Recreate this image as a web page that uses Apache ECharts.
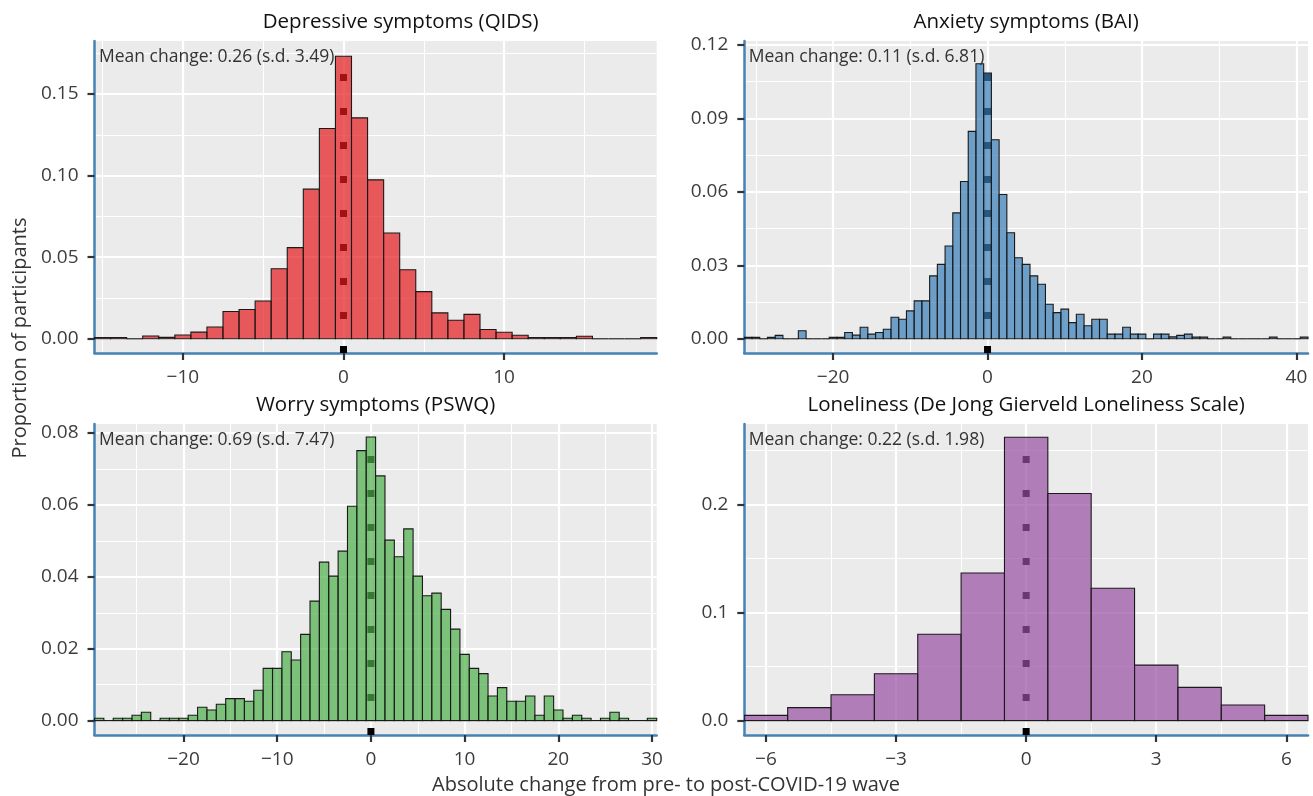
<!DOCTYPE html>
<html><head><meta charset="utf-8">
<script src="https://cdn.jsdelivr.net/npm/echarts@6/dist/echarts.min.js"></script>
<style>html,body{margin:0;padding:0;background:#fff}#c{width:1313px;height:796px}</style>
</head><body><div id="c"></div>
<script>
// ---------- DATA ----------
const binWidth = 1;
const refLineX = 0;

const qidsBins = [-15,-14,-13,-12,-11,-10,-9,-8,-7,-6,-5,-4,-3,-2,-1,0,1,2,3,4,5,6,7,8,9,10,11,12,13,14,15,16,17,18,19];
const qidsProp = [0.0008,0.0008,0,0.0017,0.0009,0.0023,0.0041,0.0072,0.0167,0.018,0.0232,0.0429,0.0559,0.0917,0.1289,0.1732,0.1354,0.0974,0.0648,0.0423,0.0289,0.0159,0.0114,0.015,0.0057,0.004,0.0022,0.0008,0.0008,0.0008,0.0016,0,0,0,0.0008];
const qidsXTicks = [-10,0,10];
const qidsXMinor = [-15,-5,5,15];
const qidsYTicks = [0,0.05,0.10,0.15];
const qidsYMinor = [0.025,0.075,0.125,0.175];

const baiBins = [-31,-30,-29,-28,-27,-26,-25,-24,-23,-22,-21,-20,-19,-18,-17,-16,-15,-14,-13,-12,-11,-10,-9,-8,-7,-6,-5,-4,-3,-2,-1,0,1,2,3,4,5,6,7,8,9,10,11,12,13,14,15,16,17,18,19,20,21,22,23,24,25,26,27,28,29,30,31,32,33,34,35,36,37,38,39,40,41];
const baiProp = [0.0006,0.0006,0,0.0006,0.0014,0,0,0.0033,0,0,0,0.0006,0.0006,0.0026,0.0015,0.0047,0.0019,0.0026,0.0039,0.0088,0.008,0.0114,0.0155,0.0155,0.0257,0.0304,0.0379,0.0514,0.0642,0.0847,0.1123,0.1085,0.0813,0.0589,0.0433,0.0331,0.0304,0.0257,0.0223,0.0141,0.0107,0.0121,0.0066,0.01,0.0053,0.008,0.008,0.0019,0.0019,0.0047,0.0019,0.0019,0,0.0019,0.0019,0.0008,0.0014,0.0019,0.0007,0.0007,0,0,0.0007,0,0,0,0,0,0.0007,0,0,0,0.0007];
const baiXTicks = [-20,0,20,40];
const baiXMinor = [-30,-10,10,30];
const baiYTicks = [0,0.03,0.06,0.09,0.12];
const baiYMinor = [0.015,0.045,0.075,0.105];

const pswqBins = [-29,-28,-27,-26,-25,-24,-23,-22,-21,-20,-19,-18,-17,-16,-15,-14,-13,-12,-11,-10,-9,-8,-7,-6,-5,-4,-3,-2,-1,0,1,2,3,4,5,6,7,8,9,10,11,12,13,14,15,16,17,18,19,20,21,22,23,24,25,26,27,28,29,30];
const pswqProp = [0.00065,0,0.00065,0.00065,0.00148,0.00231,0,0.00065,0.00065,0.00065,0.00148,0.0037,0.00296,0.00454,0.00611,0.00611,0.00537,0.00843,0.01454,0.01454,0.01917,0.01685,0.02398,0.03324,0.04407,0.04019,0.04713,0.05963,0.07509,0.07889,0.06806,0.05019,0.04556,0.05333,0.04019,0.03472,0.03546,0.03093,0.02546,0.01843,0.01454,0.01306,0.00685,0.00917,0.00537,0.00537,0.00685,0.00148,0.00685,0.00296,0.00065,0.00148,0.00065,0,0.00065,0.00231,0.00065,0,0,0.00065];
const pswqXTicks = [-20,-10,0,10,20,30];
const pswqXMinor = [-25,-15,-5,5,15,25];
const pswqYTicks = [0,0.02,0.04,0.06,0.08];
const pswqYMinor = [0.01,0.03,0.05,0.07];

const lonBins = [-6,-5,-4,-3,-2,-1,0,1,2,3,4,5,6];
const lonProp = [0.0049,0.012,0.024,0.0434,0.08,0.1366,0.2622,0.2102,0.1225,0.0514,0.0308,0.0145,0.0049];
const lonXTicks = [-6,-3,0,3,6];
const lonXMinor = [-4.5,-1.5,1.5,4.5];
const lonYTicks = [0,0.1,0.2];
const lonYMinor = [0.05,0.15,0.25];

const panelTitles = ['Depressive symptoms (QIDS)','Anxiety symptoms (BAI)','Worry symptoms (PSWQ)','Loneliness (De Jong Gierveld Loneliness Scale)'];
const panelNotes = ['Mean change: 0.26 (s.d. 3.49)','Mean change: 0.11 (s.d. 6.81)','Mean change: 0.69 (s.d. 7.47)','Mean change: 0.22 (s.d. 1.98)'];
const yAxisTitle = 'Proportion of participants';
const xAxisTitle = 'Absolute change from pre- to post-COVID-19 wave';

// ---------- LAYOUT / STYLE ----------
const FONT = '"Open Sans", "Noto Sans", sans-serif';
const panels = [
  {bins:qidsBins, vals:qidsProp, xMin:-15.5, xMax:19.5, yMin:-0.0087, yMax:0.1825, xMaj:qidsXTicks, xMin2:qidsXMinor, yMaj:qidsYTicks, yMin2:qidsYMinor, dec:2,
   fill:'rgba(228,26,28,0.7)', box:{left:94.5, top:41, width:562.2, height:312}, titleShift:25},
  {bins:baiBins, vals:baiProp, xMin:-31.5, xMax:41.5, yMin:-0.0058, yMax:0.1216, xMaj:baiXTicks, xMin2:baiXMinor, yMaj:baiYTicks, yMin2:baiYMinor, dec:2,
   fill:'rgba(55,126,184,0.7)', box:{left:744.3, top:41, width:563.7, height:312}, titleShift:0},
  {bins:pswqBins, vals:pswqProp, xMin:-29.5, xMax:30.5, yMin:-0.004, yMax:0.0825, xMaj:pswqXTicks, xMin2:pswqXMinor, yMaj:pswqYTicks, yMin2:pswqYMinor, dec:2,
   fill:'rgba(77,175,74,0.7)', box:{left:94.5, top:424, width:562.2, height:311}, titleShift:0},
  {bins:lonBins, vals:lonProp, xMin:-6.5, xMax:6.5, yMin:-0.0133, yMax:0.2745, xMaj:lonXTicks, xMin2:lonXMinor, yMaj:lonYTicks, yMin2:lonYMinor, dec:1,
   fill:'rgba(152,78,163,0.7)', box:{left:744.3, top:424, width:563.7, height:311}, titleShift:0}
];

const fmtX = v => v < 0 ? '\u2212' + Math.abs(v) : String(v);

const grid = [], xAxis = [], yAxis = [], series = [], graphic = [];
panels.forEach((p, i) => {
  grid.push(Object.assign({show:true, backgroundColor:'#EBEBEB', borderWidth:0, containLabel:false, outerBoundsMode:'none'}, p.box));
  const labelStyle = {fontSize:19, color:'#3d3d3d', fontFamily:FONT};
  xAxis.push({type:'value', gridIndex:i, min:p.xMin, max:p.xMax, position:'bottom',
    axisLine:{show:true, onZero:false, lineStyle:{color:'#4682B4', width:2.5}},
    axisTick:{show:true, length:7, customValues:p.xMaj, lineStyle:{color:'#333', width:2.2}},
    axisLabel:Object.assign({customValues:p.xMaj, margin:15, formatter:fmtX}, labelStyle),
    splitLine:{show:true, lineStyle:{color:'#fff', width:2.2}}});
  xAxis.push({type:'value', gridIndex:i, min:p.xMin, max:p.xMax, position:'top',
    axisLine:{show:false}, axisTick:{show:false, customValues:p.xMin2}, axisLabel:{show:false},
    splitLine:{show:true, lineStyle:{color:'#fff', width:1.1}}});
  yAxis.push({type:'value', gridIndex:i, min:p.yMin, max:p.yMax, position:'left',
    axisLine:{show:true, onZero:false, lineStyle:{color:'#4682B4', width:2.5}},
    axisTick:{show:true, length:7, customValues:p.yMaj, lineStyle:{color:'#333', width:2.2}},
    axisLabel:Object.assign({customValues:p.yMaj, margin:16, formatter:v => v.toFixed(p.dec)}, labelStyle),
    splitLine:{show:true, lineStyle:{color:'#fff', width:2.2}}});
  yAxis.push({type:'value', gridIndex:i, min:p.yMin, max:p.yMax, position:'right',
    axisLine:{show:false}, axisTick:{show:false, customValues:p.yMin2}, axisLabel:{show:false},
    splitLine:{show:true, lineStyle:{color:'#fff', width:1.1}}});

  // dotted reference line at x = 0, drawn beneath the translucent bars
  const topVal = Math.max.apply(null, p.vals);
  series.push({type:'line', xAxisIndex:2*i, yAxisIndex:2*i, silent:true, z:1, symbol:'none',
    data:[[refLineX, p.yMin],[refLineX, topVal]],
    lineStyle:{color:'#000', width:7, type:[7,27], cap:'butt'}});

  series.push({type:'custom', xAxisIndex:2*i, yAxisIndex:2*i, silent:true, z:3, clip:true,
    encode:{x:0, y:1},
    data:p.bins.map((b, j) => [b, p.vals[j]]),
    renderItem:(params, api) => {
      const x = api.value(0), v = api.value(1);
      const a = api.coord([x - binWidth/2, v]);
      const b = api.coord([x + binWidth/2, 0]);
      if (v === 0) {
        return {type:'line', shape:{x1:a[0], y1:b[1], x2:b[0], y2:b[1]}, style:{stroke:'#1a1a1a', lineWidth:1.2}};
      }
      return {type:'rect', shape:{x:a[0], y:a[1], width:b[0]-a[0], height:b[1]-a[1]},
        style:{fill:p.fill, stroke:'#1a1a1a', lineWidth:1.1}};
    }});

  graphic.push({type:'text', x:p.box.left + p.box.width/2 + p.titleShift, y:p.box.top - 19, silent:true,
    style:{text:panelTitles[i], font:'20.5px ' + FONT, fill:'#111', align:'center', verticalAlign:'middle'}});
  graphic.push({type:'text', x:p.box.left + 4.5, y:p.box.top + 16, silent:true, z:10,
    style:{text:panelNotes[i], font:'17.5px ' + FONT, fill:'#333', align:'left', verticalAlign:'middle'}});
});

graphic.push({type:'text', x:20, y:338, rotation:Math.PI/2, silent:true,
  style:{text:yAxisTitle, font:'20px ' + FONT, fill:'#333', align:'center', verticalAlign:'middle'}});
graphic.push({type:'text', x:666, y:785, silent:true,
  style:{text:xAxisTitle, font:'20px ' + FONT, fill:'#333', align:'center', verticalAlign:'middle'}});

const chart = echarts.init(document.getElementById('c'), null, {renderer:'canvas'});
chart.setOption({animation:false, backgroundColor:'#fff', textStyle:{fontFamily:FONT},
  grid, xAxis, yAxis, series, graphic});
</script></body></html>
